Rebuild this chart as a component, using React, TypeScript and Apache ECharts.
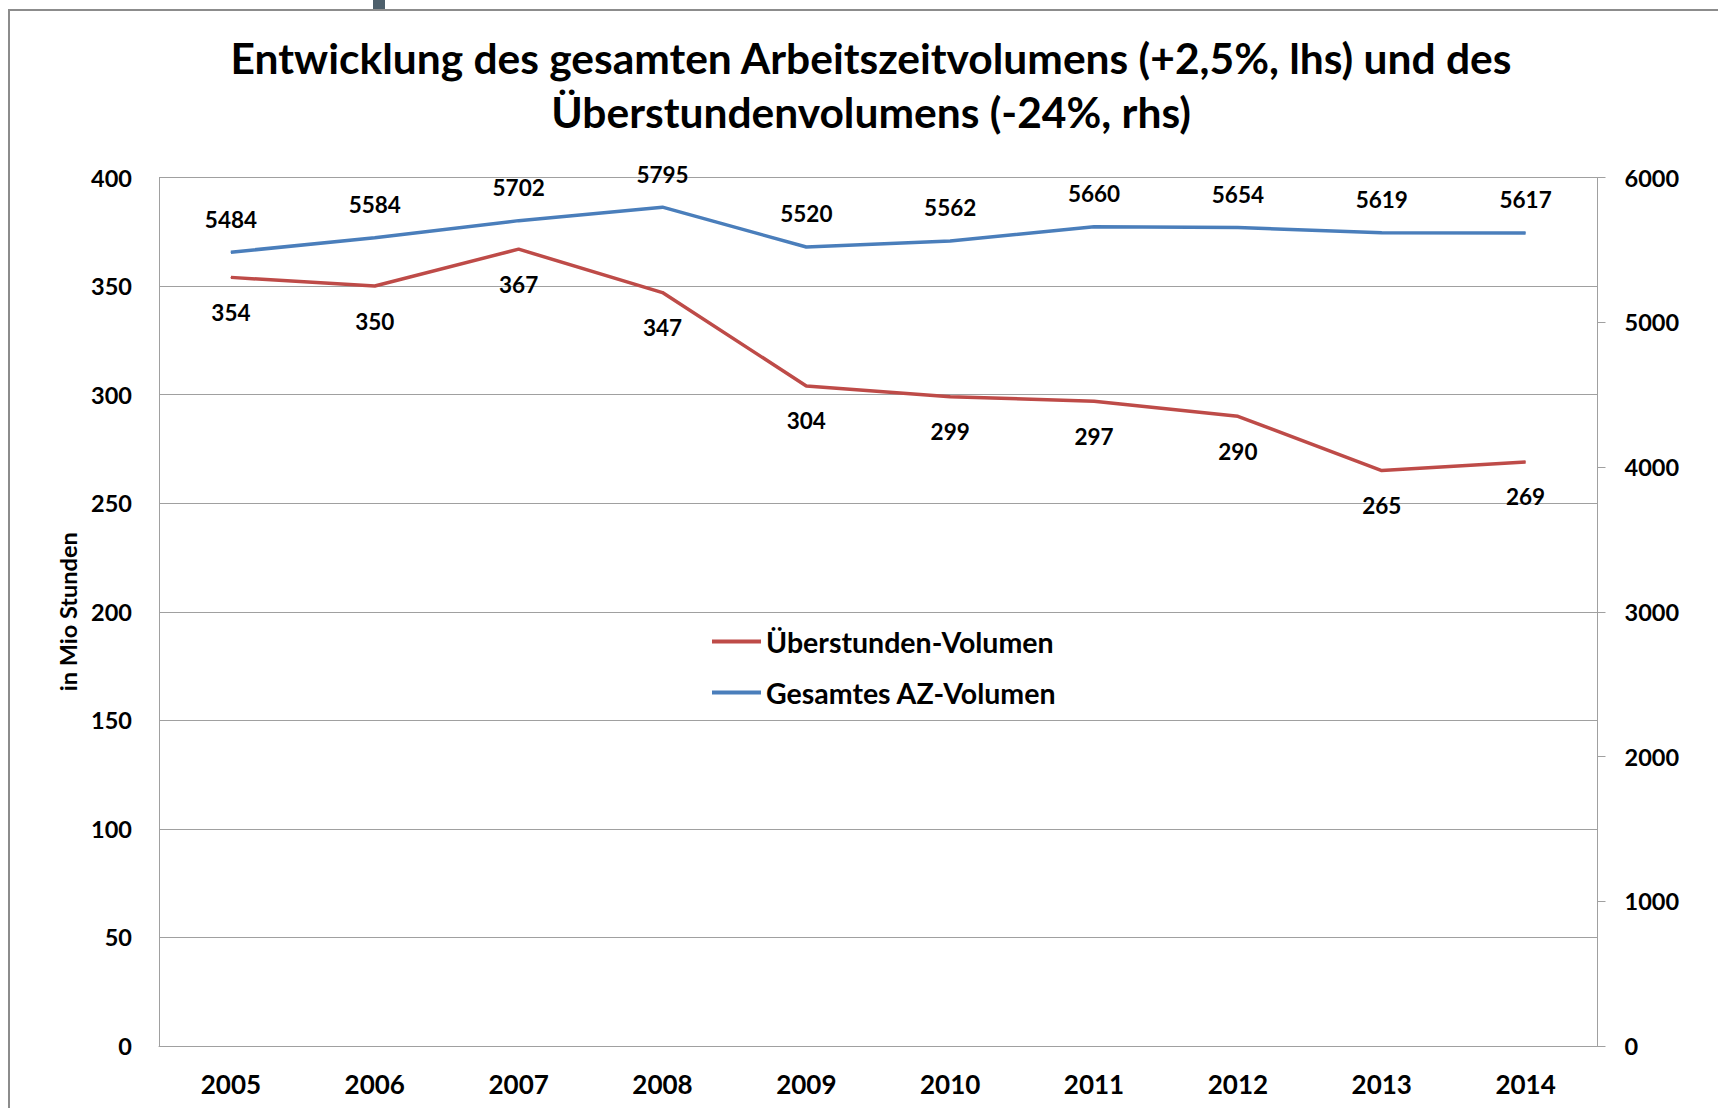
import React, { useEffect, useRef } from "react";
import * as echarts from "echarts";

const years = ["2005", "2006", "2007", "2008", "2009", "2010", "2011", "2012", "2013", "2014"];
const overtimeVolume = [354, 350, 367, 347, 304, 299, 297, 290, 265, 269];
const totalVolume = [5484, 5584, 5702, 5795, 5520, 5562, 5660, 5654, 5619, 5617];
const seriesNames = ["Überstunden-Volumen", "Gesamtes AZ-Volumen"];
const titleText = "Entwicklung des gesamten Arbeitszeitvolumens (+2,5%, lhs) und des\nÜberstundenvolumens (-24%, rhs)";
const leftAxisName = "in Mio Stunden";

const FONT = "Lato, 'Open Sans', sans-serif";
const RED = "#BE4B48";
const BLUE = "#4A7EBB";
const GRID = "#A0A0A0";

export default function App() {
  const ref = useRef<HTMLDivElement>(null);
  useEffect(() => {
    if (!ref.current) return;
    const chart = echarts.init(ref.current, null, { renderer: "svg" });
    chart.setOption({
      animation: false,
      backgroundColor: "#ffffff",
      title: {
        text: titleText,
        left: 866,
        top: 25,
        textAlign: "center",
        textStyle: { fontFamily: FONT, fontWeight: "bold", fontSize: 42.5, lineHeight: 54, color: "#000" },
      },
      graphic: [
        { type: "rect", shape: { x: 9, y: 10, width: 1800, height: 1200 }, style: { fill: "none", stroke: "#8C8C8C", lineWidth: 2 }, z: 10 },
        { type: "rect", shape: { x: 373, y: 0, width: 12, height: 9 }, style: { fill: "#4D5F6B" }, z: 11 },
      ],
      legend: {
        orient: "vertical",
        left: 712,
        top: 627,
        itemWidth: 49,
        itemHeight: 4,
        itemGap: 22,
        icon: "rect",
        padding: 0,
        data: seriesNames,
        textStyle: { fontFamily: FONT, fontWeight: "bold", fontSize: 28.5, color: "#000" },
      },
      grid: { left: 159, right: 120.5, top: 177.5, bottom: 62, containLabel: false },
      xAxis: {
        type: "category",
        data: years,
        boundaryGap: true,
        axisLine: { show: true, lineStyle: { color: GRID, width: 1 } },
        axisTick: { show: false },
        axisLabel: { margin: 25, fontFamily: FONT, fontWeight: "bold", fontSize: 26, color: "#000" },
      },
      yAxis: [
        {
          type: "value",
          min: 0,
          max: 400,
          interval: 50,
          name: leftAxisName,
          nameLocation: "middle",
          nameRotate: 90,
          nameGap: 78,
          nameTextStyle: { fontFamily: FONT, fontWeight: "bold", fontSize: 23.5, color: "#000" },
          axisLine: { show: true, lineStyle: { color: GRID, width: 1 } },
          axisTick: { show: false },
          splitLine: { show: true, lineStyle: { color: GRID, width: 1 } },
          axisLabel: { margin: 27, fontFamily: FONT, fontWeight: "bold", fontSize: 23.5, color: "#000" },
        },
        {
          type: "value",
          min: 0,
          max: 6000,
          interval: 1000,
          position: "right",
          axisLine: { show: true, lineStyle: { color: GRID, width: 1 } },
          axisTick: { show: true, length: 8, inside: false, lineStyle: { color: GRID } },
          splitLine: { show: false },
          axisLabel: {
            margin: 27,
            formatter: (v: number) => String(v),
            fontFamily: FONT,
            fontWeight: "bold",
            fontSize: 23.5,
            color: "#000",
          },
        },
      ],
      series: [
        {
          name: seriesNames[0],
          type: "line",
          yAxisIndex: 0,
          data: overtimeVolume,
          color: RED,
          symbol: "circle",
          symbolSize: 1,
          lineStyle: { color: RED, width: 3.5 },
          itemStyle: { color: RED },
          label: { show: true, position: "bottom", distance: 23, fontFamily: FONT, fontWeight: "bold", fontSize: 22.5, color: "#000" },
        },
        {
          name: seriesNames[1],
          type: "line",
          yAxisIndex: 1,
          data: totalVolume,
          color: BLUE,
          symbol: "circle",
          symbolSize: 1,
          lineStyle: { color: BLUE, width: 3.5 },
          itemStyle: { color: BLUE },
          label: { show: true, position: "top", distance: 21, fontFamily: FONT, fontWeight: "bold", fontSize: 22.5, color: "#000" },
        },
      ],
    });
    return () => chart.dispose();
  }, []);
  return (
    <div
      ref={ref}
      style={{ position: "absolute", left: 0, top: 0, width: 1718, height: 1108, background: "#fff" }}
    />
  );
}
